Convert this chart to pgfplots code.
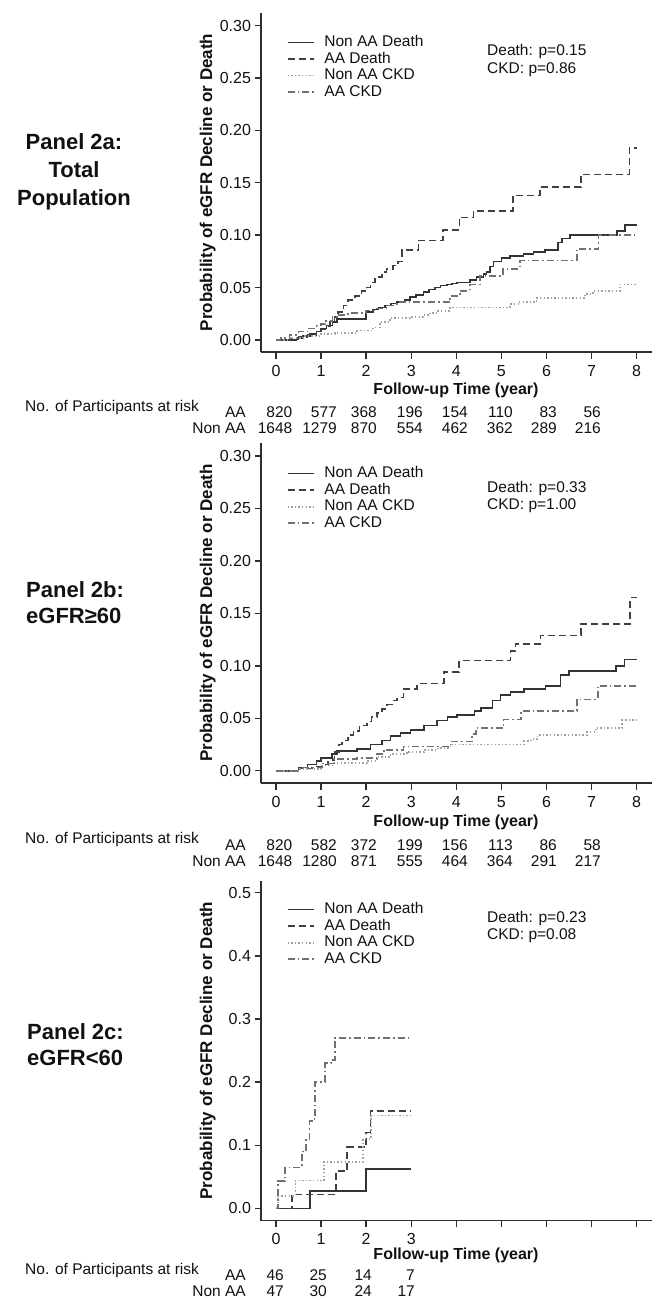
\documentclass[border=0pt]{standalone}
\usepackage{pgfplots}
\pgfplotsset{compat=1.18}
\usepackage{fontspec}
\setmainfont{Liberation Sans}
\definecolor{txt}{HTML}{111111}
\definecolor{axc}{HTML}{2E2E2E}
\definecolor{cs}{HTML}{333333}
\definecolor{cd}{HTML}{404040}
\definecolor{cdot}{HTML}{A0A0A0}
\definecolor{cdd}{HTML}{707070}
\newcommand{\rf}{\fontsize{15.5bp}{18bp}\selectfont}
\newcommand{\tf}{\fontsize{16bp}{19bp}\selectfont}
\newcommand{\bfl}{\fontsize{16bp}{19bp}\selectfont\bfseries}
\newcommand{\ylf}{\fontsize{17bp}{20bp}\selectfont\bfseries}
\newcommand{\pf}{\fontsize{22bp}{26bp}\selectfont\bfseries}
\pgfplotsset{
  km/.style={
    scale only axis, width=391bp, anchor=south west,
    axis lines*=left, xmin=-0.333, xmax=8.34, xtick={0,1,2,3,4,5,6,7,8},
    tick align=outside, major tick length=6.5bp,
    axis line style={line width=1.4bp, axc},
    every tick/.style={line width=1.4bp, axc},
    tick label style={font=\tf, text=txt},
    xticklabel style={yshift=-3bp},
    legend cell align=left,
    legend image code/.code={\draw[##1] (0bp,0bp) -- (26bp,0bp);},
    legend style={draw=none, fill=none, font=\rf, text=txt, inner sep=0pt,
      row sep=2.5bp, column sep=10bp, anchor=north west,
      nodes={inner sep=0pt, text height=11bp, text depth=3bp}},
    clip=false,
    every axis plot/.append style={line width=1.6bp, const plot},
  },
  nad/.style={cs, solid},
  aad/.style={cd, dash pattern=on 7bp off 4bp},
  nac/.style={cdot, line width=1.8bp, dash pattern=on 1.4bp off 2.2bp},
  aac/.style={cdd, dash pattern=on 7bp off 3bp on 1.6bp off 3bp},
}
\begin{document}
\begin{tikzpicture}
\path[use as bounding box] (0bp,0bp) rectangle (662bp,-1300bp);
% ---------------- Panel a
\begin{axis}[km, at={(261bp,-352bp)}, height=339bp,
  ymin=-0.01145, ymax=0.312,
  ytick={0,0.05,0.1,0.15,0.2,0.25,0.3},
  yticklabels={0.00,0.05,0.10,0.15,0.20,0.25,0.30},
  xticklabels={0,1,2,3,4,5,6,7,8},
  legend style={at={(0.065,0.934)}}]
\addplot[nad] table {
x y
0 0
0.35 0
0.45 0.002
0.6 0.004
0.75 0.006
0.9 0.008
1.0 0.011
1.12 0.014
1.25 0.017
1.35 0.020
2.0 0.027
2.15 0.029
2.27 0.031
2.42 0.033
2.55 0.035
2.68 0.036
2.85 0.038
2.97 0.041
3.1 0.043
3.27 0.046
3.4 0.048
3.53 0.050
3.65 0.052
3.79 0.053
3.9 0.054
4.01 0.055
4.3 0.057
4.45 0.060
4.6 0.063
4.67 0.065
4.75 0.070
4.82 0.075
5.0 0.078
5.19 0.080
5.49 0.082
5.71 0.084
5.97 0.086
6.26 0.093
6.34 0.097
6.52 0.100
7.56 0.104
7.74 0.110
8.0 0.110
};
\addlegendentry{Non AA Death}
\addplot[aad] table {
x y
0 0
0.3 0.001
0.5 0.003
0.7 0.005
0.9 0.008
1.0 0.010
1.1 0.013
1.2 0.017
1.3 0.022
1.38 0.027
1.5 0.033
1.6 0.038
1.75 0.042
1.9 0.047
2.01 0.050
2.1 0.055
2.2 0.060
2.35 0.065
2.45 0.068
2.6 0.071
2.7 0.075
2.79 0.086
3.16 0.095
3.71 0.105
4.07 0.117
4.38 0.123
5.26 0.138
5.86 0.146
6.76 0.158
7.84 0.183
8.0 0.183
};
\addlegendentry{AA Death}
\addplot[nac] table {
x y
0 0
0.3 0.002
0.6 0.004
1.0 0.006
1.3 0.007
1.8 0.009
2.16 0.012
2.3 0.017
2.53 0.021
2.97 0.022
3.27 0.024
3.42 0.026
3.6 0.028
3.86 0.031
5.19 0.034
5.4 0.036
5.78 0.040
6.85 0.044
7.04 0.047
7.63 0.053
8.0 0.053
};
\addlegendentry{Non AA CKD}
\addplot[aac] table {
x y
0 0
0.1 0.002
0.3 0.005
0.5 0.008
0.7 0.011
0.9 0.014
1.0 0.015
1.1 0.018
1.25 0.022
1.4 0.024
1.6 0.026
2.0 0.028
2.2 0.030
2.45 0.033
2.68 0.036
3.86 0.042
4.08 0.047
4.30 0.053
4.52 0.061
5.04 0.068
5.41 0.076
6.67 0.087
7.15 0.100
8.0 0.100
};
\addlegendentry{AA CKD}
\end{axis}
% ---------------- Panel b
\begin{axis}[km, at={(261bp,-783bp)}, height=340bp,
  ymin=-0.0117, ymax=0.3124,
  ytick={0,0.05,0.1,0.15,0.2,0.25,0.3},
  yticklabels={0.00,0.05,0.10,0.15,0.20,0.25,0.30},
  xticklabels={0,1,2,3,4,5,6,7,8},
  legend style={at={(0.065,0.931)}}]
\addplot[nad] table {
x y
0 0
0.35 0
0.5 0.003
0.7 0.006
0.9 0.009
1.0 0.012
1.24 0.016
1.35 0.019
1.8 0.021
2.1 0.025
2.35 0.029
2.54 0.033
2.76 0.036
2.98 0.039
3.28 0.043
3.57 0.048
3.80 0.051
4.02 0.053
4.4 0.057
4.55 0.060
4.8 0.067
4.98 0.072
5.2 0.075
5.5 0.078
5.98 0.081
6.31 0.091
6.50 0.095
7.54 0.100
7.73 0.106
8.0 0.106
};
\addlegendentry{Non AA Death}
\addplot[aad] table {
x y
0 0
0.5 0.002
0.8 0.004
1.02 0.006
1.15 0.010
1.3 0.018
1.4 0.025
1.47 0.029
1.6 0.034
1.72 0.038
1.85 0.043
2.02 0.047
2.12 0.051
2.24 0.055
2.35 0.059
2.46 0.063
2.58 0.067
2.69 0.070
2.83 0.078
3.13 0.083
3.72 0.094
4.06 0.105
5.2 0.114
5.31 0.121
5.87 0.129
6.76 0.140
7.85 0.165
8.0 0.165
};
\addlegendentry{AA Death}
\addplot[nac] table {
x y
0 0
0.5 0.002
1.0 0.005
1.28 0.007
2.02 0.009
2.24 0.013
2.54 0.016
2.9 0.018
3.28 0.020
3.6 0.022
3.87 0.025
5.5 0.028
5.65 0.030
5.8 0.034
6.9 0.037
7.09 0.041
7.68 0.048
8.0 0.048
};
\addlegendentry{Non AA CKD}
\addplot[aac] table {
x y
0 0
0.54 0.003
1.02 0.007
1.28 0.011
1.8 0.012
2.24 0.016
2.39 0.020
2.83 0.023
3.87 0.028
4.35 0.035
4.43 0.041
5.05 0.049
5.43 0.057
6.67 0.068
7.14 0.081
8.0 0.081
};
\addlegendentry{AA CKD}
\end{axis}
% ---------------- Panel c
\begin{axis}[km, at={(261bp,-1220.7bp)}, height=340bp,
  ymin=-0.0196, ymax=0.519,
  ytick={0,0.1,0.2,0.3,0.4,0.5},
  yticklabels={0.0,0.1,0.2,0.3,0.4,0.5},
  xticklabels={0,1,2,3,,,,,},
  legend style={at={(0.065,0.936)}}]
\addplot[nad] table {
x y
0 0
0.76 0.027
2.0 0.062
3.0 0.062
};
\addlegendentry{Non AA Death}
\addplot[aad] table {
x y
0 0
0.35 0.022
1.33 0.059
1.58 0.097
2.0 0.12
2.1 0.154
3.0 0.154
};
\addlegendentry{AA Death}
\addplot[nac] table {
x y
0 0
0.05 0.02
0.43 0.044
1.06 0.074
1.93 0.11
2.11 0.147
3.0 0.147
};
\addlegendentry{Non AA CKD}
\addplot[aac] table {
x y
0 0
0.05 0.043
0.2 0.065
0.58 0.09
0.67 0.11
0.74 0.138
0.85 0.143
0.87 0.2
1.09 0.23
1.22 0.235
1.31 0.27
3.0 0.27
};
\addlegendentry{AA CKD}
\end{axis}
% ---------------- texts
\begin{scope}[every node/.style={text=txt, inner sep=0pt}]
\foreach \yc in {182.5, 613, 1050.7} {
  \node[rotate=90, anchor=base, font=\ylf] at (212bp,-\yc bp) {Probability of eGFR Decline or Death};
}
\node[anchor=base, font=\bfl] at (456bp,-394bp) {Follow-up Time (year)};
\node[anchor=base, font=\bfl] at (456bp,-826bp) {Follow-up Time (year)};
\node[anchor=base, font=\bfl] at (456bp,-1259bp) {Follow-up Time (year)};
\node[anchor=base west, font=\rf] at (487bp,-55.5bp) {Death: p=0.15};
\node[anchor=base west, font=\rf] at (487bp,-73.5bp) {CKD: p=0.86};
\node[anchor=base west, font=\rf] at (487bp,-492.5bp) {Death: p=0.33};
\node[anchor=base west, font=\rf] at (487bp,-509.5bp) {CKD: p=1.00};
\node[anchor=base west, font=\rf] at (487bp,-922.5bp) {Death: p=0.23};
\node[anchor=base west, font=\rf] at (487bp,-939.5bp) {CKD: p=0.08};
\node[anchor=base, font=\pf] at (74bp,-149bp) {Panel 2a:};
\node[anchor=base, font=\pf] at (74bp,-177bp) {Total};
\node[anchor=base, font=\pf] at (74bp,-205bp) {Population};
\node[anchor=base west, font=\pf] at (26bp,-597bp) {Panel 2b:};
\node[anchor=base west, font=\pf] at (26bp,-623bp) {eGFR≥60};
\node[anchor=base west, font=\pf] at (27bp,-1039bp) {Panel 2c:};
\node[anchor=base west, font=\pf] at (27bp,-1065bp) {eGFR<60};
\foreach \yb/\ya/\yn in {411/417.5/433.5, 843/850/866, 1274/1280.5/1296.5} {
  \node[anchor=base west, font=\rf] at (25bp,-\yb bp) {No. of Participants at risk};
  \node[anchor=base east, font=\rf] at (246bp,-\ya bp) {AA};
  \node[anchor=base east, font=\rf] at (246bp,-\yn bp) {Non AA};
}
\foreach \xr/\va/\vn in {292.5/820/1648, 337/577/1279, 377/368/870, 423/196/554, 468/154/462, 513/110/362, 557/83/289, 601/56/216} {
  \node[anchor=base east, font=\rf] at (\xr bp,-417.5bp) {\va};
  \node[anchor=base east, font=\rf] at (\xr bp,-433.5bp) {\vn};
}
\foreach \xr/\va/\vn in {292.5/820/1648, 337/582/1280, 377/372/871, 423/199/555, 468/156/464, 513/113/364, 557/86/291, 601/58/217} {
  \node[anchor=base east, font=\rf] at (\xr bp,-850bp) {\va};
  \node[anchor=base east, font=\rf] at (\xr bp,-866bp) {\vn};
}
\foreach \xr/\va/\vn in {284/46/47, 327/25/30, 372/14/24, 415/7/17} {
  \node[anchor=base east, font=\rf] at (\xr bp,-1280.5bp) {\va};
  \node[anchor=base east, font=\rf] at (\xr bp,-1296.5bp) {\vn};
}
\end{scope}
\end{tikzpicture}
\end{document}
